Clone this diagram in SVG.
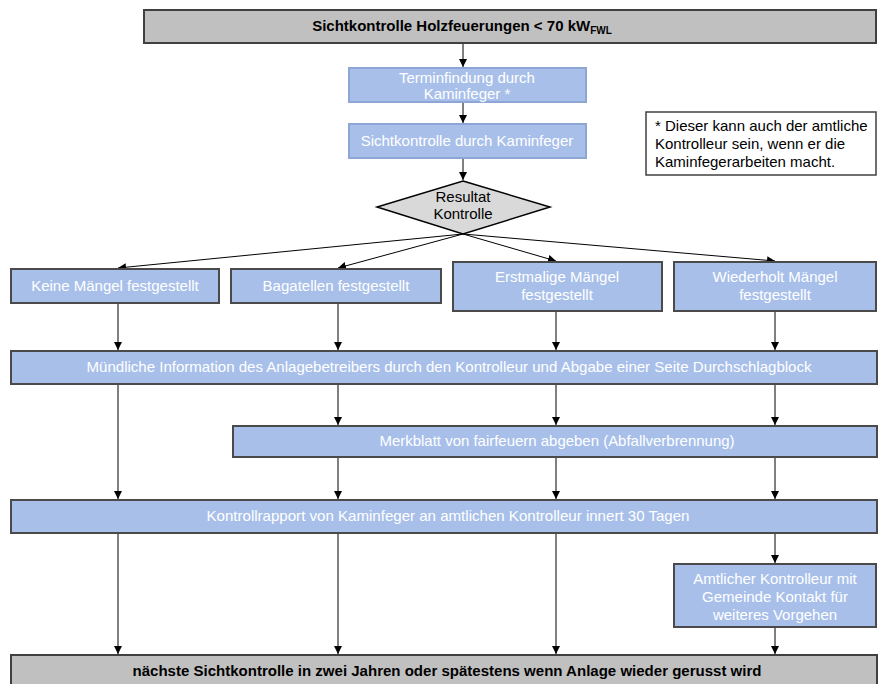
<svg xmlns="http://www.w3.org/2000/svg" width="878" height="684" viewBox="0 0 878 684">
<defs>
<marker id="arr" markerUnits="userSpaceOnUse" markerWidth="9" markerHeight="9" refX="8" refY="4" orient="auto">
<path d="M0,0 L8,4 L0,8 z" fill="#000"/>
</marker>
<style>
.gray{fill:#c0c0c0;stroke:#404040;stroke-width:2}
.blue{fill:#a8bfea;stroke:#4a4a4a;stroke-width:2}
.blueL{fill:#a8bfea;stroke:#8ea6d6;stroke-width:2}
.dia{fill:#d9d9d9;stroke:#000;stroke-width:1.5}
.note{fill:#fff;stroke:#404040;stroke-width:1.5}
.t{font-family:"Liberation Sans",Arial,sans-serif;font-size:15px;fill:#fff;text-anchor:middle}
.tb{font-family:"Liberation Sans",Arial,sans-serif;font-size:15px;font-weight:bold;fill:#000;text-anchor:middle}
.td{font-family:"Liberation Sans",Arial,sans-serif;font-size:15px;fill:#000;text-anchor:middle}
.tn{font-family:"Liberation Sans",Arial,sans-serif;font-size:15px;fill:#000}
.c{stroke:#000;stroke-width:1;fill:none}
.ca{stroke:#000;stroke-width:1;fill:none;marker-end:url(#arr)}
</style>
</defs>
<rect width="878" height="684" fill="#fff"/>

<g id="connectors">
<line class="ca" x1="463" y1="44" x2="463" y2="67"/>
<line class="ca" x1="463" y1="103" x2="463" y2="123"/>
<line class="ca" x1="463" y1="159" x2="463" y2="180"/>
<line class="ca" x1="463" y1="234" x2="118" y2="268"/>
<line class="ca" x1="463" y1="234" x2="338" y2="268"/>
<line class="ca" x1="463" y1="234" x2="556" y2="261"/>
<line class="ca" x1="463" y1="234" x2="775" y2="261"/>
<line class="ca" x1="118" y1="304" x2="118" y2="350"/>
<line class="ca" x1="338" y1="304" x2="338" y2="350"/>
<line class="ca" x1="556" y1="312" x2="556" y2="350"/>
<line class="ca" x1="775" y1="312" x2="775" y2="350"/>
<line class="ca" x1="118" y1="385" x2="118" y2="499"/>
<line class="ca" x1="338" y1="385" x2="338" y2="425"/>
<line class="ca" x1="556" y1="385" x2="556" y2="425"/>
<line class="ca" x1="775" y1="385" x2="775" y2="425"/>
<line class="ca" x1="338" y1="458" x2="338" y2="499"/>
<line class="ca" x1="556" y1="458" x2="556" y2="499"/>
<line class="ca" x1="775" y1="458" x2="775" y2="499"/>
<line class="ca" x1="118" y1="534" x2="118" y2="654"/>
<line class="ca" x1="338" y1="534" x2="338" y2="654"/>
<line class="ca" x1="556" y1="534" x2="556" y2="654"/>
<line class="ca" x1="775" y1="534" x2="775" y2="563"/>
<line class="ca" x1="775" y1="628" x2="775" y2="654"/>
</g>

<g id="n-title">
<rect class="gray" x="144" y="10" width="732" height="33"/>
<text class="tb" x="462" y="31">Sichtkontrolle Holzfeuerungen &lt; 70 kW<tspan font-size="10" dy="3">FWL</tspan></text>
</g>

<g id="n-termin">
<rect class="blueL" x="349" y="68" width="237" height="34"/>
<text class="t" x="467" y="83">Terminfindung durch</text>
<text class="t" x="467" y="99">Kaminfeger *</text>
</g>

<g id="n-sicht">
<rect class="blueL" x="349" y="124" width="237" height="34"/>
<text class="t" x="467" y="146">Sichtkontrolle durch Kaminfeger</text>
</g>

<g id="n-resultat">
<polygon class="dia" points="463,181 550,207 463,234 377,207"/>
<text class="td" x="463" y="202">Resultat</text>
<text class="td" x="463" y="219">Kontrolle</text>
</g>

<g id="n-note">
<rect class="note" x="646" y="112" width="230" height="63"/>
<text class="tn" x="655" y="131">* Dieser kann auch der amtliche</text>
<text class="tn" x="655" y="149">Kontrolleur sein, wenn er die</text>
<text class="tn" x="655" y="167">Kaminfegerarbeiten macht.</text>
</g>

<g id="n-keine">
<rect class="blue" x="11" y="269" width="208" height="34"/>
<text class="t" x="115" y="291">Keine Mängel festgestellt</text>
</g>

<g id="n-bagatellen">
<rect class="blue" x="231" y="269" width="210" height="34"/>
<text class="t" x="336" y="291">Bagatellen festgestellt</text>
</g>

<g id="n-erstmalig">
<rect class="blue" x="453" y="262" width="209" height="49"/>
<text class="t" x="557" y="282">Erstmalige Mängel</text>
<text class="t" x="557" y="300">festgestellt</text>
</g>

<g id="n-wiederholt">
<rect class="blue" x="674" y="262" width="202" height="49"/>
<text class="t" x="775" y="282">Wiederholt Mängel</text>
<text class="t" x="775" y="300">festgestellt</text>
</g>

<g id="n-muendlich">
<rect class="blue" x="11" y="351" width="866" height="33"/>
<text class="t" x="449" y="372" textLength="725" lengthAdjust="spacingAndGlyphs">Mündliche Information des Anlagebetreibers durch den Kontrolleur und Abgabe einer Seite Durchschlagblock</text>
</g>

<g id="n-merkblatt">
<rect class="blue" x="233" y="426" width="644" height="31"/>
<text class="t" x="557" y="446" textLength="355" lengthAdjust="spacingAndGlyphs">Merkblatt von fairfeuern abgeben (Abfallverbrennung)</text>
</g>

<g id="n-rapport">
<rect class="blue" x="11" y="500" width="866" height="33"/>
<text class="t" x="448" y="521" textLength="483" lengthAdjust="spacingAndGlyphs">Kontrollrapport von Kaminfeger an amtlichen Kontrolleur innert 30 Tagen</text>
</g>

<g id="n-amtlich">
<rect class="blue" x="674" y="564" width="202" height="63"/>
<text class="t" x="775" y="584">Amtlicher Kontrolleur mit</text>
<text class="t" x="775" y="602">Gemeinde Kontakt für</text>
<text class="t" x="775" y="620">weiteres Vorgehen</text>
</g>

<g id="n-naechste">
<rect class="gray" x="11" y="655" width="866" height="35"/>
<text class="tb" x="447" y="676" font-size="14" textLength="629" lengthAdjust="spacingAndGlyphs">nächste Sichtkontrolle in zwei Jahren oder spätestens wenn Anlage wieder gerusst wird</text>
</g>
</svg>
